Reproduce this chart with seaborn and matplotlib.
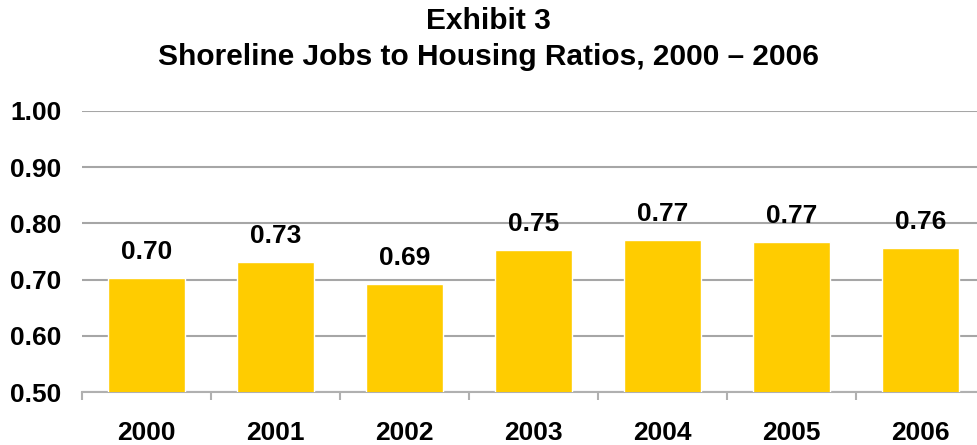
import matplotlib
matplotlib.use("Agg")
import matplotlib.pyplot as plt
import seaborn as sns
import pandas as pd
import numpy as np
from matplotlib.ticker import FixedLocator

years = ["2000", "2001", "2002", "2003", "2004", "2005", "2006"]
ratios = [0.703, 0.731, 0.692, 0.753, 0.770, 0.767, 0.756]
labels = ["0.70", "0.73", "0.69", "0.75", "0.77", "0.77", "0.76"]
yticks = [0.50, 0.60, 0.70, 0.80, 0.90, 1.00]

sns.set_theme(style="white")
plt.rcParams["font.family"] = ["Liberation Sans", "DejaVu Sans"]
plt.rcParams["text.color"] = "black"

df = pd.DataFrame({"year": years, "ratio": ratios})

fig = plt.figure(figsize=(9.77, 4.45), dpi=100)
ax = fig.add_axes([82/977, 53/445, (985-82)/977, (392-111)/445])

sns.barplot(data=df, x="year", y="ratio", color="#FFCC00", saturation=1,
            width=0.59, ax=ax, zorder=3)

ax.set_ylim(0.5, 1.0)
ax.set_xlim(-0.5, len(years) - 0.5)
ax.set_yticks(yticks)
ax.set_yticklabels([f"{v:.2f}" for v in yticks], fontsize=19, fontweight="bold")
ax.set_xticks(range(len(years)))
ax.set_xticklabels(years, fontsize=19, fontweight="bold")
ax.set_xlabel("")
ax.set_ylabel("")

ax.yaxis.grid(True, color="#A6A6A6", linewidth=1.5, zorder=0)
ax.set_axisbelow(True)
for s in ["top", "right", "left"]:
    ax.spines[s].set_visible(False)
ax.spines["bottom"].set_color("#B0B0B0")
ax.spines["bottom"].set_linewidth(1.5)

ax.tick_params(axis="y", length=0, pad=15, labelcolor="black")
ax.tick_params(axis="x", which="major", length=0, pad=21, labelcolor="black")
ax.xaxis.set_minor_locator(FixedLocator(np.arange(-0.5, len(years), 1.0)))
ax.tick_params(axis="x", which="minor", bottom=True, length=6, width=1.5, color="#B0B0B0", direction="out")

for i, (v, lab) in enumerate(zip(ratios, labels)):
    ax.annotate(lab, (i, v), xytext=(0, 10), textcoords="offset points",
                ha="center", va="bottom", fontsize=19, fontweight="bold", color="black")

fig.text(0.5, 1 - 21/445, "Exhibit 3", ha="center", va="center", fontsize=21.5,
         fontweight="bold", color="black")
fig.text(0.5, 1 - 57/445, "Shoreline Jobs to Housing Ratios, 2000 \u2013 2006", ha="center", va="center",
         fontsize=21.5, fontweight="bold", color="black")

fig.savefig("out.png", dpi=100)
